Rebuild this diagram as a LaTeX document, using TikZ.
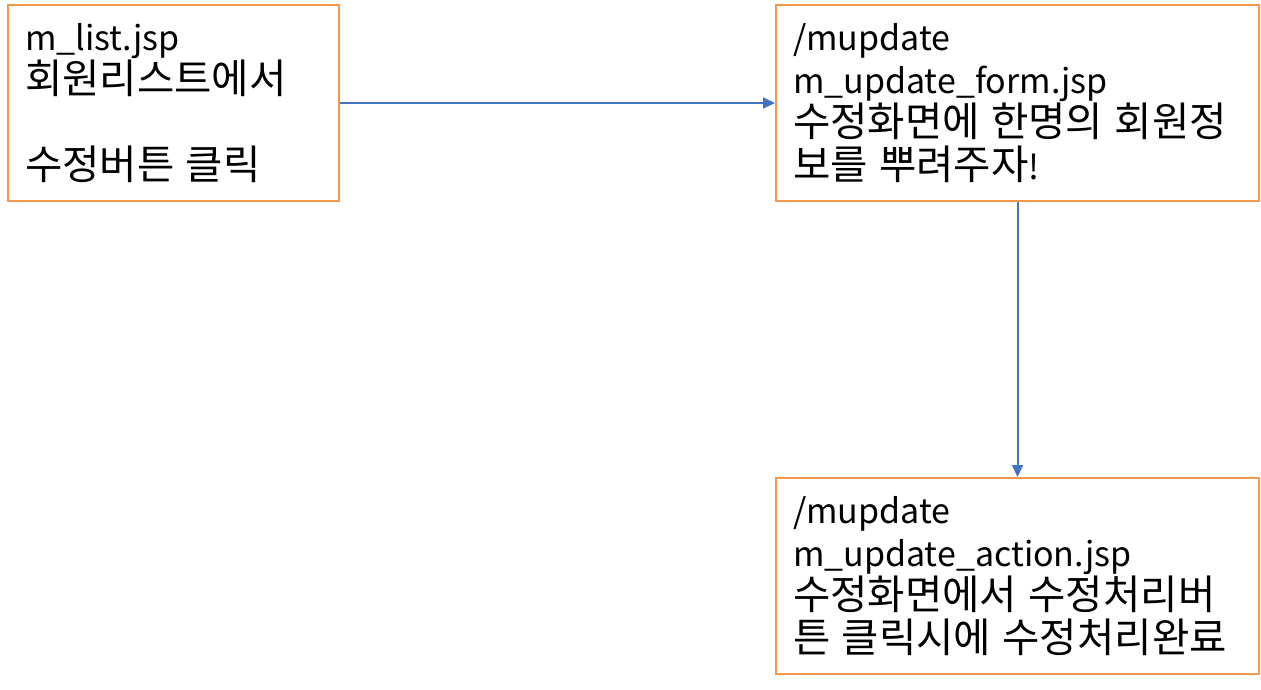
\documentclass[tikz,border=0pt]{standalone}
\usepackage{fontspec}
\setmainfont{Noto Sans CJK KR}
\newfontfamily\hangul[Scale=1.195]{Noto Sans CJK KR}
\usetikzlibrary{arrows.meta}
\definecolor{memoorange}{RGB}{244,151,74}
\definecolor{flowblue}{RGB}{68,114,196}
\begin{document}
\begin{tikzpicture}[x=1pt, y=-1pt,
        memo/.style={draw=memoorange, line width=2pt, align=left, inner xsep=17pt, inner ysep=0pt,
            minimum height=196pt, font=\fontsize{34}{43}\selectfont},
        flow/.style={draw=flowblue, line width=2pt, -{Triangle[length=12pt, width=11pt]}}]
        \useasboundingbox (0, 0) rectangle (1261, 689);
        \node [memo, minimum width=331pt, text width=297pt] (list) at (173.5, 103)
            {m\_list.jsp\\{\hangul 회원리스트에서}\\[43pt]{\hangul 수정버튼 클릭}};
        \node [memo, minimum width=483pt, text width=449pt] (form) at (1017.5, 103)
            {/mupdate\\m\_update\_form.jsp\\{\hangul 수정화면에 한명의 회원정}\\{\hangul 보를 뿌려주자}!};
        \node [memo, minimum width=483pt, text width=449pt] (action) at (1017.5, 576)
            {/mupdate\\m\_update\_action.jsp\\{\hangul 수정화면에서 수정처리버}\\{\hangul 튼 클릭시에 수정처리완료}};
        \draw [flow] (list) -- (form);
        \draw [flow] (form) -- (action);
    \end{tikzpicture}
\end{document}
